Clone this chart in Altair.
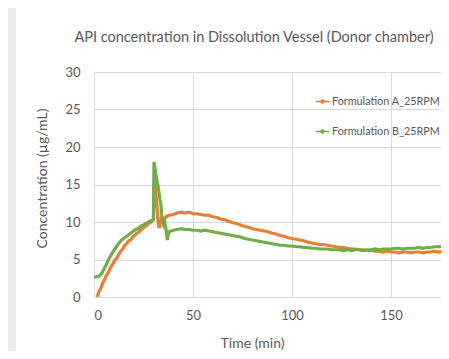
import altair as alt
import pandas as pd

# Formulation A (orange)
time_a = [1.5, 2.5, 3.5, 4.5, 5.5, 6.5, 7.5, 8.5, 9.5, 10.5, 11.5, 12.5, 13.5, 14.5, 15.5, 16.5,
          17.5, 18.5, 19.5, 20.5, 21.5, 22.5, 23.5, 24.5, 25.5, 26.5, 27.5, 28.5, 29.5, 30.0,
          30.5, 31.0, 31.5, 32.0, 32.5, 33.0, 33.5, 34.0, 35.0, 36.0, 37.0, 38.0, 40, 42, 44, 46,
          48, 50, 52, 54, 56, 58, 60, 62, 64, 66, 68, 70, 72, 74, 76, 78, 80, 82, 84, 86, 88, 90,
          92, 94, 96, 98, 100, 102, 104, 106, 108, 110, 112, 114, 116, 118, 120, 122, 124, 126,
          128, 130, 132, 134, 136, 138, 140, 142, 144, 146, 148, 150, 152, 154, 156, 158, 160,
          162, 164, 166, 168, 170, 172, 174, 176, 178, 180]
conc_a = [0.0, 0.7, 1.2, 1.9, 2.4, 3.0, 3.4, 4.0, 4.4, 4.9, 5.2, 5.7, 6.1, 6.4, 6.9, 7.1,
          7.5, 7.6, 8.0, 8.2, 8.5, 8.6, 8.9, 9.1, 9.4, 9.5, 9.8, 9.9, 10.2, 10.3,
          16.2, 14.6, 13.0, 11.4, 9.6, 9.2, 9.9, 10.4, 10.2, 10.6, 10.8, 10.9, 11.0, 11.2, 11.3, 11.2,
          11.3, 11.1, 11.1, 11.0, 10.9, 10.9, 10.7, 10.6, 10.4, 10.3, 10.1, 9.9, 9.8, 9.6, 9.4, 9.3,
          9.1, 9.0, 8.9, 8.8, 8.7, 8.5, 8.4, 8.2, 8.1, 7.9, 7.8, 7.7, 7.6, 7.5, 7.3, 7.2, 7.1, 7.0,
          7.0, 6.9, 6.8, 6.7, 6.6, 6.6, 6.5, 6.4, 6.4, 6.3, 6.3, 6.2, 6.2, 6.1, 6.1, 6.0, 6.1, 6.0,
          6.0, 5.9, 6.0, 6.0, 5.9, 6.0, 6.0, 5.9, 6.0, 6.0, 6.1, 6.0, 6.1, 6.0, 6.1]

# Formulation B (green)
time_b = [0, 1, 2, 3, 4, 5, 6, 7, 8, 9, 10, 11, 12, 13, 14, 15, 16, 17, 18, 19, 20, 21, 22, 23,
          24, 25, 26, 27, 28, 29, 30.0, 30.3, 30.8, 31.3, 31.8, 32.3, 32.8, 33.3, 33.8, 34.2,
          34.6, 35.0, 35.5, 36.0, 36.5, 37.0, 37.5, 38, 39, 40, 42, 44, 46, 48, 50, 52, 54, 56,
          58, 60, 62, 64, 66, 68, 70, 72, 74, 76, 78, 80, 82, 84, 86, 88, 90, 92, 94, 96, 98, 100,
          102, 104, 106, 108, 110, 112, 114, 116, 118, 120, 122, 124, 126, 128, 130, 132, 134,
          136, 138, 140, 142, 144, 146, 148, 150, 152, 154, 156, 158, 160, 162, 164, 166, 168,
          170, 172, 174, 176, 178, 180]
conc_b = [2.6, 2.7, 2.7, 2.9, 3.2, 3.7, 4.2, 4.8, 5.3, 5.8, 6.2, 6.6, 7.0, 7.3, 7.6, 7.8, 8.0,
          8.2, 8.4, 8.6, 8.8, 9.0, 9.1, 9.3, 9.5, 9.6, 9.8, 9.9, 10.1, 10.2, 10.3, 18.0, 17.2,
          16.3, 15.5, 14.8, 14.0, 13.0, 12.2, 11.0, 10.2, 9.8, 10.3, 9.6, 8.8, 7.6, 8.3, 8.7, 8.8,
          8.9, 9.0, 9.1, 9.0, 9.0, 8.9, 8.9, 8.8, 8.9, 8.8, 8.7, 8.6, 8.5, 8.4, 8.3, 8.2, 8.1, 8.0,
          7.8, 7.7, 7.6, 7.5, 7.4, 7.3, 7.2, 7.1, 7.0, 6.9, 6.9, 6.8, 6.8, 6.7, 6.7, 6.6, 6.6, 6.5,
          6.5, 6.4, 6.4, 6.4, 6.3, 6.3, 6.3, 6.2, 6.3, 6.2, 6.3, 6.3, 6.2, 6.3, 6.3, 6.4, 6.3, 6.4,
          6.4, 6.4, 6.5, 6.5, 6.4, 6.5, 6.5, 6.5, 6.6, 6.5, 6.6, 6.6, 6.7, 6.7, 6.8, 6.8, 6.9]

series_names = ["Formulation A_25RPM", "Formulation B_25RPM"]
series_colors = ["#ED7D31", "#70AD47"]
x_ticks = [0, 50, 100, 150]
y_ticks = [0, 5, 10, 15, 20, 25, 30]
title_text = "API concentration in Dissolution Vessel (Donor chamber)"

df = pd.concat([
    pd.DataFrame({"time": time_a, "conc": conc_a, "series": series_names[0]}),
    pd.DataFrame({"time": time_b, "conc": conc_b, "series": series_names[1]}),
])

W, H = 347, 225
FONT = "Lato"
GREY = "#595959"

strip = alt.Chart(alt.Data(values=[{}])).mark_rect(color="#ebebeb").encode(
    x=alt.value(-86), x2=alt.value(-78), y=alt.value(-64), y2=alt.value(H + 54)
)

title = alt.Chart(alt.Data(values=[{"t": title_text}])).mark_text(
    font=FONT, fontSize=14.5, color=GREY, align="center", baseline="middle"
).encode(text="t:N", x=alt.value(160), y=alt.value(-34))

lines = alt.Chart(df).mark_line(strokeWidth=3.2, clip=True).encode(
    x=alt.X("time:Q", scale=alt.Scale(domain=[0, W / 1.98], nice=False, zero=False),
            axis=alt.Axis(values=x_ticks, title="Time  (min)", titleX=158, titleY=46,
                          titleBaseline="middle", titleAlign="center")),
    y=alt.Y("conc:Q", scale=alt.Scale(domain=[0, 30], nice=False),
            axis=alt.Axis(values=y_ticks, title="Concentration (µg/mL)", titleX=-52, titleY=106,
                          titleAngle=-90, titleBaseline="middle", titleAlign="center",
                          domain=False)),
    color=alt.Color("series:N", scale=alt.Scale(domain=series_names, range=series_colors),
                    legend=alt.Legend(title=None, orient="none", legendX=221, legendY=22)),
    order=alt.Order("time:Q"),
)

chart = alt.layer(strip, title, lines).properties(
    width=W, height=H,
    autosize=alt.AutoSizeParams(type="none"),
    padding={"left": 86, "top": 64, "right": 0, "bottom": 54},
    background="white",
).configure_axis(
    grid=True, gridColor="#d9d9d9", domainColor="#d9d9d9", ticks=False,
    labelFont=FONT, labelFontSize=13, labelColor=GREY, labelPadding=12,
    titleFont=FONT, titleFontSize=14, titleFontWeight="normal", titleColor=GREY,
).configure_axisY(labelPadding=14).configure_view(stroke=None).configure_legend(
    labelFont=FONT, labelFontSize=10.8, labelColor=GREY, rowPadding=17, labelOffset=2,
    symbolType="M-1,0H1M-0.22,0A0.22,0.22 0 1,0 0.22,0A0.22,0.22 0 1,0 -0.22,0",
    symbolSize=169, symbolStrokeWidth=1.5, labelLimit=300,
)

chart.save("out.html", embed_options={"renderer": "svg", "actions": False})
